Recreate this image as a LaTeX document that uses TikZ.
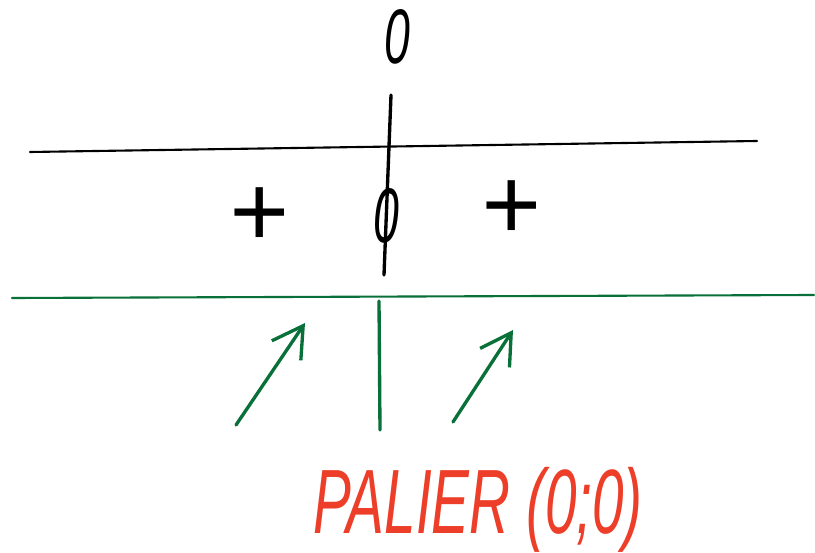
\documentclass[tikz,border=0pt]{standalone}
\usepackage{fontspec}
\setmainfont{Liberation Sans}
\usetikzlibrary{arrows.meta, positioning}
\definecolor{inkgreen}{RGB}{8,112,56}
\definecolor{inkred}{RGB}{236,62,40}

\begin{document}
\begin{tikzpicture}[x=0.02cm, y=-0.02cm,
  rule/.style={line width=1.2pt, line cap=round},
  bar/.style={line width=1.9pt, line cap=round},
  sign/.style={font=\fontsize{44}{44}\selectfont\itshape, inner sep=0pt},
  plus/.style={font=\fontsize{58}{58}\selectfont\itshape, inner sep=0pt},
  trend/.style={line width=1.9pt, inkgreen, line cap=round, -{Straight Barb[length=6mm, width=7mm]}}]
  \useasboundingbox (0,0) rectangle (815,553);
  % top row: value where the derivative vanishes
  \node[sign, xscale=0.6, transform shape] (xzero) at (397,37) {0};
  \coordinate (rowL) at (30,152);
  \coordinate (rowR) at (757,141);
  \coordinate (barT) at (391,95);
  \coordinate (barB) at (384,275);
  \draw[rule] (rowL) -- (rowR);
  \draw[bar] (barT) -- (barB);
  % sign row
  \node[plus] (plusL) at (258,217) {+};
  \node[sign, xscale=0.6, transform shape] (dzero) at (386,216) {0};
  \node[plus] (plusR) at (510,210) {+};
  % variation row
  \coordinate (varL) at (12,298);
  \coordinate (varR) at (814,295);
  \coordinate (sepT) at (379,301);
  \coordinate (sepB) at (380,430);
  \draw[rule, inkgreen] (varL) -- (varR);
  \draw[bar, inkgreen] (sepT) -- (sepB);
  \coordinate (upLa) at (236,425);
  \coordinate (upLb) at (305,323);
  \coordinate (upRa) at (453,422);
  \coordinate (upRb) at (513,330);
  \draw[trend] (upLa) -- (upLb);
  \draw[trend] (upRa) -- (upRb);
  \node[inkred, font=\fontsize{52}{52}\selectfont\itshape, xscale=0.62, transform shape] (palier) at (478,510) {PALIER (0;0)};
\end{tikzpicture}
\end{document}
